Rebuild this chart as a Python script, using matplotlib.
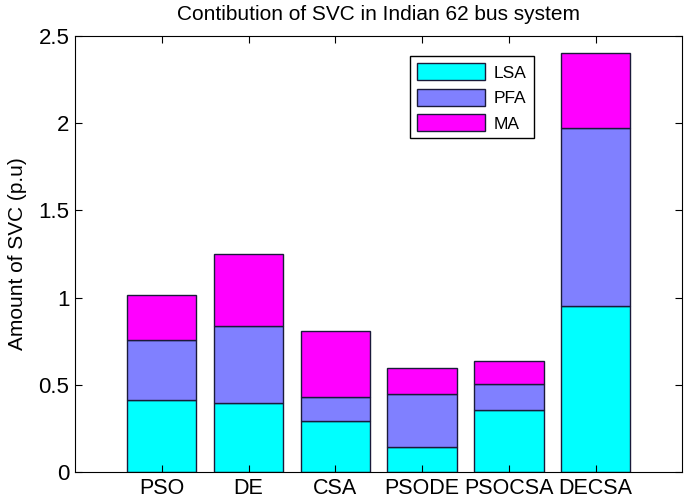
import numpy as np
import matplotlib
matplotlib.use("Agg")
import matplotlib.pyplot as plt

methods = ["PSO", "DE", "CSA", "PSODE", "PSOCSA", "DECSA"]
lsa = [0.413, 0.394, 0.295, 0.143, 0.356, 0.952]
pfa = [0.347, 0.442, 0.137, 0.308, 0.147, 1.021]
ma = [0.253, 0.415, 0.377, 0.147, 0.133, 0.430]

series = [("LSA", lsa, "#00ffff"), ("PFA", pfa, "#8080ff"), ("MA", ma, "#ff00ff")]

plt.rcParams["font.family"] = ["Liberation Sans", "DejaVu Sans"]

fig = plt.figure(figsize=(6.85, 5.01), dpi=100)
ax = fig.add_axes([0.1095, 0.0573, 0.8866, 0.8715])

x = np.arange(1, len(methods) + 1)
bottom = np.zeros(len(methods))
for name, vals, col in series:
    ax.bar(x, vals, width=0.8, bottom=bottom, color=col, edgecolor="#1a1a3a",
           linewidth=1.0, label=name)
    bottom += np.array(vals)

ax.set_xlim(0, 7)
ax.set_ylim(0, 2.5)
ax.set_xticks(x)
ax.set_xticklabels(methods, fontsize=15.5)
ax.set_yticks([0, 0.5, 1, 1.5, 2, 2.5])
ax.set_yticklabels(["0", "0.5", "1", "1.5", "2", "2.5"], fontsize=16)
ax.tick_params(direction="in", top=True, right=True, length=5, pad=4)
ax.set_ylabel("Amount of SVC (p.u)", fontsize=15, labelpad=8)
ax.set_title("Contibution of SVC in Indian 62 bus system", fontsize=15, pad=11)

leg = ax.legend(loc="upper left", bbox_to_anchor=(0.538, 0.973), fontsize=12.5,
                fancybox=False, edgecolor="black", framealpha=1,
                handlelength=3.9, handleheight=1.15, borderpad=0.4,
                labelspacing=0.46, handletextpad=0.5)
leg.get_frame().set_linewidth(1.0)

plt.savefig("out.png", dpi=100)
plt.close("all")
